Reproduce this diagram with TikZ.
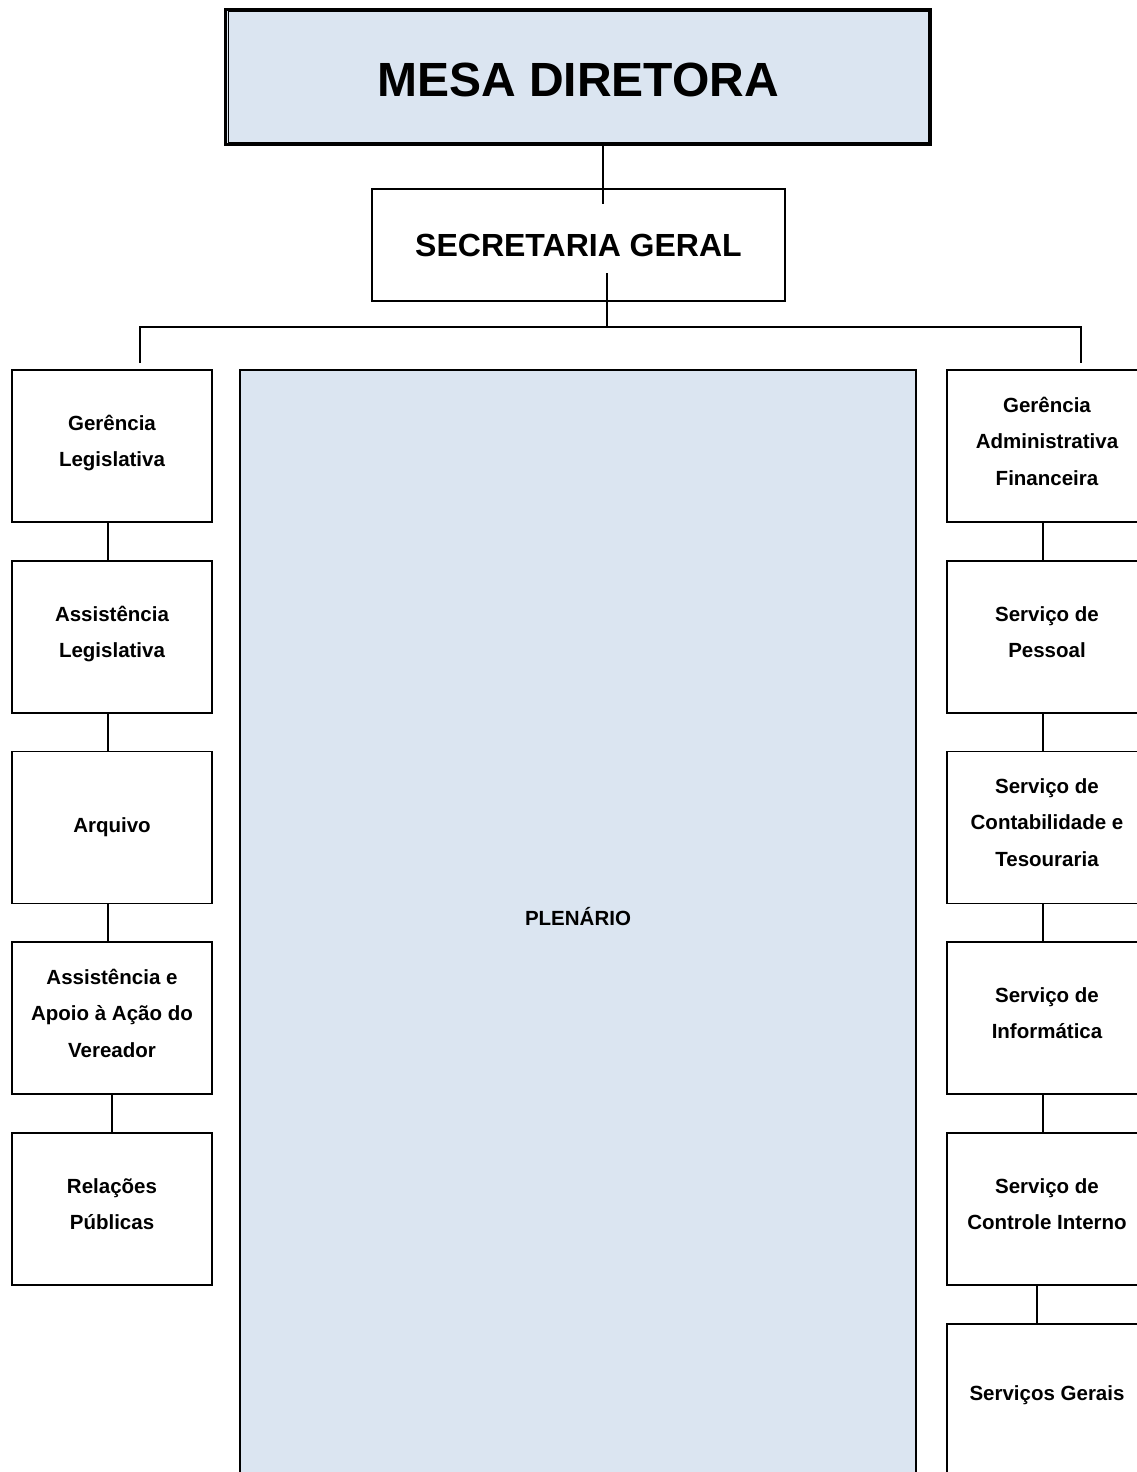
\documentclass[tikz,border=0pt]{standalone}
\usepackage{fontspec}
\setmainfont{Liberation Sans}
\usetikzlibrary{calc}
\definecolor{paleblue}{HTML}{DBE5F1}
\newcommand\txtlift[1]{\rule[-#1]{0pt}{0pt}}
\begin{document}
\begin{tikzpicture}[x=1pt,y=-1pt,
  box/.style={draw=black, line width=1.8pt, fill=white, minimum width=200pt, minimum height=152pt,
    align=center, inner sep=0pt, font=\fontsize{20.5}{36.5}\selectfont\bfseries},
  conn/.style={draw=black, line width=1.8pt}]
\clip (0,0) rectangle (1137,1472);
\fill[white] (0,0) rectangle (1137,1472);
% Mesa diretora
\node[draw=black, line width=3pt, fill=paleblue, minimum width=705.5pt, minimum height=135.5pt,
  inner sep=0pt, font=\fontsize{48}{52}\selectfont\bfseries] (mesa) at (578,77) {\rule{0pt}{40pt}MESA DIRETORA};
\draw[line width=1.1pt] ($(mesa.north west)+(4.5,4)$) rectangle ($(mesa.south east)+(-3.8,-3.8)$);
% Secretaria geral
\node[draw=black, line width=1.8pt, fill=white, minimum width=413pt, minimum height=112pt,
  inner sep=0pt, font=\fontsize{32}{36}\selectfont\bfseries] (sg) at (578.5,245) {SECRETARIA GERAL};
\draw[conn] ($(mesa.south)+(25,0)$) -- ($(sg.north)+(24.5,16)$);
\coordinate (bus) at (607,327);
\coordinate (busl) at (140,327);
\coordinate (busr) at (1081,327);
\draw[conn] ($(sg.center)+(28.5,28)$) -- (bus);
\draw[conn] ($(busl)+(0,36)$) -- (busl) -- (busr) -- ($(busr)+(0,36)$);
% Plenario
\node[draw=black, line width=1.8pt, fill=paleblue, minimum width=676pt, minimum height=1140pt, inner sep=0pt] (plen) at (578,940) {};
\node[font=\fontsize{20.5}{24}\selectfont\bfseries] (plentxt) at (578,917) {PLENÁRIO};
% Left column
\node[box] (l1) at (112,446) {Gerência\\Legislativa\txtlift{10pt}};
\node[box] (l2) at (112,637) {Assistência\\Legislativa\txtlift{10pt}};
\node[box] (l3) at (112,827.5) {Arquivo};
\node[box] (l4) at (112,1018) {Assistência e\\Apoio à Ação do\\Vereador\txtlift{10pt}};
\node[box] (l5) at (112,1209) {Relações\\Públicas\txtlift{10pt}};
% Right column
\node[box] (r1) at (1047,446) {Gerência\\Administrativa\\Financeira\txtlift{10pt}};
\node[box] (r2) at (1047,637) {Serviço de\\Pessoal\txtlift{10pt}};
\node[box] (r3) at (1047,827.5) {Serviço de\\Contabilidade e\\Tesouraria\txtlift{10pt}};
\node[box] (r4) at (1047,1018) {Serviço de\\Informática\txtlift{10pt}};
\node[box] (r5) at (1047,1209) {Serviço de\\Controle Interno\txtlift{10pt}};
\node[box, minimum height=200pt] (r6) at (1047,1424) {Serviços Gerais\txtlift{62pt}};
% connectors left
\draw[conn] ($(l1.south)+(-4,0)$) -- ($(l2.north)+(-4,0)$);
\draw[conn] ($(l2.south)+(-4,0)$) -- ($(l3.north)+(-4,0)$);
\draw[conn] ($(l3.south)+(-4,0)$) -- ($(l4.north)+(-4,0)$);
\draw[conn] (l4.south) -- (l5.north);
% connectors right
\draw[conn] ($(r1.south)+(-4,0)$) -- ($(r2.north)+(-4,0)$);
\draw[conn] ($(r2.south)+(-4,0)$) -- ($(r3.north)+(-4,0)$);
\draw[conn] ($(r3.south)+(-4,0)$) -- ($(r4.north)+(-4,0)$);
\draw[conn] ($(r4.south)+(-4,0)$) -- ($(r5.north)+(-4,0)$);
\draw[conn] ($(r5.south)+(-10,0)$) -- ($(r6.north)+(-10,0)$);
\end{tikzpicture}
\end{document}
